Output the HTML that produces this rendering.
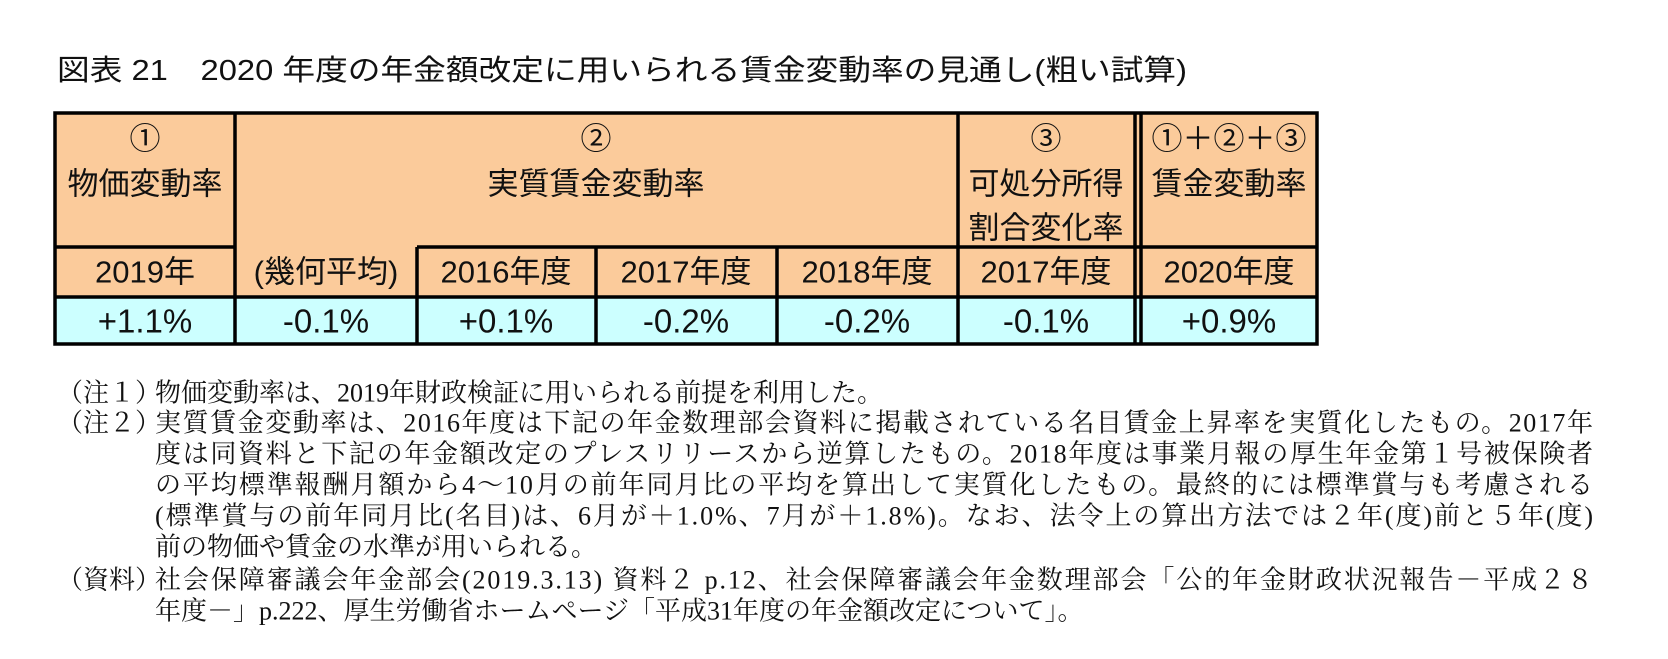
<!DOCTYPE html>
<html><head><meta charset="utf-8">
<style>
html,body{margin:0;padding:0;background:#fff;}
svg{display:block;}
.t{font-family:"Liberation Sans","Noto Sans CJK JP",sans-serif;font-size:31px;fill:#111;}
.v{font-family:"Liberation Sans","Noto Sans CJK JP",sans-serif;font-size:33px;fill:#111;}
.n{font-family:"Liberation Serif","Noto Serif CJK SC",serif;font-size:26px;fill:#111;}
.ttl{font-family:"Liberation Sans","Noto Sans CJK JP",sans-serif;font-size:29px;fill:#111;}
</style></head>
<body>
<svg width="1668" height="659" viewBox="0 0 1668 659">
<text class="ttl" x="57" y="80" textLength="1130" lengthAdjust="spacingAndGlyphs">図表 21　2020 年度の年金額改定に用いられる賃金変動率の見通し(粗い試算)</text>

<g>
<rect x="55" y="113" width="1262" height="184" fill="#FBCB9B"/>
<rect x="55" y="297" width="1262" height="47" fill="#CCFFFF"/>
<g stroke="#000" stroke-width="3.5" fill="none">
<rect x="55" y="113" width="1262" height="231"/>
<line x1="55" y1="247" x2="235" y2="247"/>
<line x1="417" y1="247" x2="1317" y2="247"/>
<line x1="55" y1="297" x2="1317" y2="297"/>
<line x1="235" y1="113" x2="235" y2="344"/>
<line x1="417" y1="247" x2="417" y2="344"/>
<line x1="596" y1="247" x2="596" y2="344"/>
<line x1="777" y1="247" x2="777" y2="344"/>
<line x1="958" y1="113" x2="958" y2="344"/>
<line x1="1135" y1="113" x2="1135" y2="344"/>
<line x1="1141" y1="113" x2="1141" y2="344"/>
</g>
<g class="t" text-anchor="middle" dominant-baseline="central">
<text x="145" y="139">①</text>
<text x="145" y="184">物価変動率</text>
<text x="596" y="139">②</text>
<text x="596" y="184">実質賃金変動率</text>
<text x="1046" y="139">③</text>
<text x="1046" y="184">可処分所得</text>
<text x="1046" y="228">割合変化率</text>
<text x="1229" y="139">①＋②＋③</text>
<text x="1229" y="184">賃金変動率</text>
<text x="145" y="272">2019年</text>
<text x="326" y="272">(幾何平均)</text>
<text x="506" y="272">2016年度</text>
<text x="686" y="272">2017年度</text>
<text x="867" y="272">2018年度</text>
<text x="1046" y="272">2017年度</text>
<text x="1229" y="272">2020年度</text>
</g>
<g class="v" text-anchor="middle" dominant-baseline="central">
<text x="145" y="321">+1.1%</text>
<text x="326" y="321">-0.1%</text>
<text x="506" y="321">+0.1%</text>
<text x="686" y="321">-0.2%</text>
<text x="867" y="321">-0.2%</text>
<text x="1046" y="321">-0.1%</text>
<text x="1229" y="321">+0.9%</text>
</g>
</g>

<g class="n" dominant-baseline="central">
<text x="57" y="393">（注１）</text>
<text x="155" y="393">物価変動率は、2019年財政検証に用いられる前提を利用した。</text>
<text x="57" y="423">（注２）</text>
<text x="155" y="423" textLength="1438" lengthAdjust="spacing">実質賃金変動率は、2016年度は下記の年金数理部会資料に掲載されている名目賃金上昇率を実質化したもの。2017年</text>
<text x="155" y="454" textLength="1438" lengthAdjust="spacing">度は同資料と下記の年金額改定のプレスリリースから逆算したもの。2018年度は事業月報の厚生年金第１号被保険者</text>
<text x="155" y="485" textLength="1438" lengthAdjust="spacing">の平均標準報酬月額から4～10月の前年同月比の平均を算出して実質化したもの。最終的には標準賞与も考慮される</text>
<text x="155" y="516" textLength="1438" lengthAdjust="spacing">(標準賞与の前年同月比(名目)は、6月が＋1.0%、7月が＋1.8%)。なお、法令上の算出方法では２年(度)前と５年(度)</text>
<text x="155" y="547">前の物価や賃金の水準が用いられる。</text>
<text x="57" y="580">（資料）</text>
<text x="155" y="580" textLength="1438" lengthAdjust="spacing">社会保障審議会年金部会(2019.3.13) 資料２ p.12、社会保障審議会年金数理部会「公的年金財政状況報告－平成２８</text>
<text x="155" y="611">年度－」p.222、厚生労働省ホームページ「平成31年度の年金額改定について」。</text>
</g>
</svg>
</body></html>
